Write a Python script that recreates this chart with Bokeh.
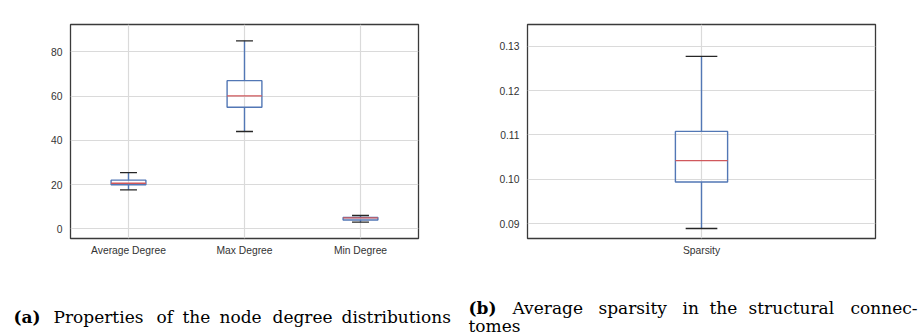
from bokeh.plotting import figure
from bokeh.layouts import column, row
from bokeh.models import Range1d, FixedTicker, PrintfTickFormatter
from bokeh.core.properties import value
from bokeh.embed import file_html
from bokeh.resources import INLINE

# ---- data ----
deg_categories = ["Average Degree", "Max Degree", "Min Degree"]
deg_whisker_low = [17.6, 44.0, 3.0]
deg_q1 = [19.9, 55.0, 4.0]
deg_median = [20.6, 60.1, 4.9]
deg_q3 = [22.0, 67.0, 5.1]
deg_whisker_high = [25.4, 85.0, 6.0]
deg_yticks = [0, 20, 40, 60, 80]

sp_categories = ["Sparsity"]
sp_whisker_low = [0.0889]
sp_q1 = [0.0994]
sp_median = [0.1042]
sp_q3 = [0.1108]
sp_whisker_high = [0.1277]
sp_yticks = [0.09, 0.10, 0.11, 0.12, 0.13]

caption_a_label = "(a)"
caption_a_words = ["Properties", "of", "the", "node", "degree", "distributions"]
caption_b_label = "(b)"
caption_b_words = ["Average", "sparsity", "in", "the", "structural", "connec-"]
caption_b_line2 = "tomes"

# layout of the caption words (pixel positions, justified as in the reference)
caption_a_x = [53, 156, 182, 219, 272, 341]
caption_b_x = [512, 598, 682, 709, 748, 850]

BOX = "#5277b5"
MED = "#d0585c"
CAP = "#262626"
GRID = "#dadada"
TEXT = "#333333"
FONT = "Liberation Sans"


def boxplot(width, height, cats, lo, q1, med, q3, hi, yr, yticks, fmt,
            box_w, cap_w, borders):
    n = len(cats)
    xs = [i + 1 for i in range(n)]
    p = figure(width=width, height=height, output_backend="svg",
               toolbar_location=None, x_range=Range1d(0.5, n + 0.5),
               y_range=Range1d(*yr))
    p.min_border_left, p.min_border_right, p.min_border_top, p.min_border_bottom = borders
    p.background_fill_color = "white"
    p.border_fill_color = "white"
    p.outline_line_color = "#3a3a3a"
    p.outline_line_width = 1.3

    p.grid.grid_line_color = GRID
    p.grid.grid_line_width = 1.2
    p.xaxis.ticker = FixedTicker(ticks=xs)
    p.xaxis.major_label_overrides = {x: c for x, c in zip(xs, cats)}
    p.yaxis.ticker = FixedTicker(ticks=yticks)
    p.xgrid.ticker = FixedTicker(ticks=xs)
    p.ygrid.ticker = FixedTicker(ticks=yticks)
    if fmt:
        p.yaxis.formatter = PrintfTickFormatter(format=fmt)
    for ax in (p.xaxis, p.yaxis):
        ax.axis_line_color = None
        ax.major_tick_line_color = None
        ax.minor_tick_line_color = None
        ax.major_tick_out = 0
        ax.major_tick_in = 0
        ax.major_label_text_font = FONT
        ax.major_label_text_font_size = "10.3px"
        ax.major_label_text_color = TEXT
    p.yaxis.major_label_standoff = 8
    p.xaxis.major_label_standoff = 6

    left = [x - box_w / 2 for x in xs]
    right = [x + box_w / 2 for x in xs]
    p.quad(left=left, right=right, bottom=q1, top=q3, fill_color=None,
           line_color=BOX, line_width=1.4)
    p.segment(x0=xs, y0=q3, x1=xs, y1=hi, line_color=BOX, line_width=1.4)
    p.segment(x0=xs, y0=q1, x1=xs, y1=lo, line_color=BOX, line_width=1.4)
    p.segment(x0=[x - cap_w / 2 for x in xs], y0=hi,
              x1=[x + cap_w / 2 for x in xs], y1=hi,
              line_color=CAP, line_width=1.3)
    p.segment(x0=[x - cap_w / 2 for x in xs], y0=lo,
              x1=[x + cap_w / 2 for x in xs], y1=lo,
              line_color=CAP, line_width=1.3)
    p.segment(x0=left, y0=med, x1=right, y1=med, line_color=MED, line_width=1.3)
    return p


p1 = boxplot(460, 270, deg_categories, deg_whisker_low, deg_q1, deg_median,
             deg_q3, deg_whisker_high, (-4.4, 92.4), deg_yticks, None,
             0.3, 0.146, (70, 42, 24, 20))
p2 = boxplot(464, 270, sp_categories, sp_whisker_low, sp_q1, sp_median,
             sp_q3, sp_whisker_high, (0.08665, 0.1349), sp_yticks, "%.2f",
             0.15, 0.091, (67, 49, 12, 32))

cap = figure(width=924, height=65, output_backend="svg", toolbar_location=None,
             x_range=Range1d(0, 924), y_range=Range1d(335, 270),
             min_border=0)
cap.axis.visible = False
cap.grid.visible = False
cap.outline_line_color = None
SERIF = value("DejaVu Serif")
FS = "17px"
common = dict(text_font=SERIF, text_font_size=FS, text_baseline="alphabetic",
              text_color="black")
cap.text(x=[13], y=[316.5], text=[caption_a_label], text_font_style="bold", **common)
cap.text(x=caption_a_x, y=[316.5] * len(caption_a_words), text=caption_a_words, **common)
cap.text(x=[468], y=[307], text=[caption_b_label], text_font_style="bold", **common)
cap.text(x=caption_b_x, y=[307] * len(caption_b_words), text=caption_b_words, **common)
cap.text(x=[468], y=[325], text=[caption_b_line2], **common)

layout = column(row(p1, p2), cap)
open("out.html", "w").write(file_html(layout, INLINE))
